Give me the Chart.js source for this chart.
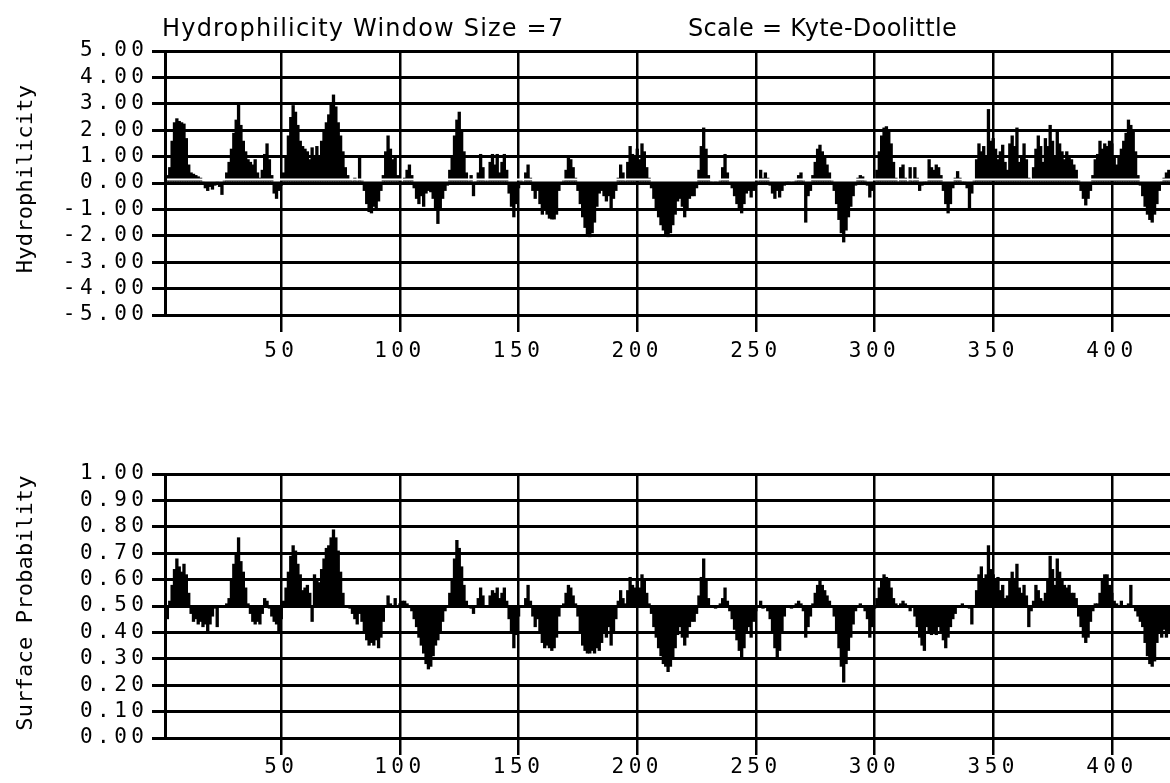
<!DOCTYPE html>
<html>
<head>
<meta charset="utf-8">
<title>Hydrophilicity / Surface Probability</title>
<script src="https://cdn.jsdelivr.net/npm/chart.js"></script>
<style>
  body { margin: 0; background: #fff; }
  #wrap { position: relative; width: 1170px; height: 783px; overflow: hidden; background: #fff; }
  .title { position: absolute; top: 16px; font-family: "DejaVu Sans"; font-size: 24px; line-height: 24px; color: #000; white-space: nowrap; }
  .ytitle { position: absolute; width: 400px; height: 24px; line-height: 24px; text-align: center;
            font-family: "DejaVu Sans Mono"; font-size: 22px; letter-spacing: 0.2px; color: #000;
            transform: rotate(-90deg); white-space: nowrap; }
  canvas { position: absolute; left: 0; }
</style>
</head>
<body>
<div id="wrap">
  <canvas id="hydroChart" width="1170" height="400" style="top:0"></canvas>
  <canvas id="surfChart" width="1170" height="383" style="top:400px"></canvas>
  <div class="title" style="left:162px; letter-spacing:1.2px">Hydrophilicity Window Size =7</div>
  <div class="title" style="left:688px; letter-spacing:0.3px">Scale = Kyte-Doolittle</div>
  <div class="ytitle" style="left:-175px; top:167px">Hydrophilicity</div>
  <div class="ytitle" style="left:-175px; top:591px">Surface Probability</div>
</div>
<script>
// x axis labels (residue number)
const xTicks = [50, 100, 150, 200, 250, 300, 350, 400];
const hydroTicks = [-5, -4, -3, -2, -1, 0, 1, 2, 3, 4, 5];
const surfTicks = [0, 0.1, 0.2, 0.3, 0.4, 0.5, 0.6, 0.7, 0.8, 0.9, 1.0];

// Kyte-Doolittle hydrophilicity, one value per residue starting at residue 1
const hydro = [
  -1.8, 0.3, 0.6, 1.6, 2.3, 2.45, 2.35, 2.3, 2.25, 1.7,
  0.7, 0.4, 0.35, 0.3, 0.25, 0.2, 0.05, -0.2, -0.3, -0.15,
  -0.25, -0.1, 0.05, -0.15, -0.45, 0.1, 0.4, 0.8, 1.3, 1.9,
  2.4, 3.0, 2.2, 1.6, 1.2, 0.9, 0.8, 0.7, 0.9, 0.4,
  0.2, 0.5, 1.1, 1.5, 0.9, 0.3, -0.4, -0.6, -0.3, -0.1,
  0.4, 1.0, 1.8, 2.5, 2.95, 2.7, 2.2, 1.6, 1.4, 1.3,
  1.2, 0.9, 1.35, 1.0, 1.4, 1.0, 1.6, 2.0, 2.3, 2.6,
  3.0, 3.35, 2.9, 2.3, 1.8, 1.2, 0.6, 0.3, 0.15, 0.1,
  0.2, 0.1, 0.95, 0.1, -0.3, -0.8, -1.1, -1.15, -0.9, -1.0,
  -0.7, -0.3, 0.3, 1.2, 1.8, 1.3, 0.9, 1.0, 0.3, 0.1,
  0.05, 0.2, 0.5, 0.7, 0.3, -0.2, -0.6, -0.8, -0.5, -0.9,
  -0.4, -0.3, -0.35, -0.6, -1.0, -1.55, -1.0, -0.6, -0.3, -0.1,
  0.5, 1.0, 1.8, 2.4, 2.7, 2.0, 1.2, 0.4, 0.1, 0.3,
  -0.5, 0.05, 0.4, 1.1, 0.6, 0.1, 0.1, 0.8, 1.1, 0.7,
  1.1, 0.4, 0.8, 1.1, 0.5, -0.4, -0.9, -1.3, -0.8, -0.2,
  0.1, 0.05, 0.4, 0.7, 0.2, -0.3, -0.6, -0.3, -0.8, -1.2,
  -1.0, -1.2, -1.35, -1.38, -1.38, -1.2, -0.3, -0.05, 0.1, 0.5,
  1.0, 0.9, 0.6, 0.2, -0.3, -0.8, -1.3, -1.7, -2.0, -2.05,
  -1.9, -1.5, -0.9, -0.4, -0.3, -0.5, -0.7, -0.5, -1.0, -0.6,
  -0.3, 0.2, 0.7, 0.4, 0.1, 0.8, 1.4, 1.1, 1.0, 1.3,
  0.9, 1.5, 1.2, 0.6, 0.2, -0.2, -0.6, -1.0, -1.3, -1.6,
  -1.8, -1.95, -2.05, -1.9, -1.6, -1.2, -0.7, -0.6, -0.9, -1.3,
  -1.0, -0.6, -0.5, -0.5, -0.2, 0.5, 1.4, 2.1, 1.3, 0.3,
  0.05, -0.05, 0.05, 0.0, 0.1, 0.6, 1.1, 0.4, 0.0, -0.2,
  -0.5, -0.8, -1.0, -1.15, -0.8, -0.4, -0.3, -0.55, -0.3, -0.1,
  0.1, 0.5, 0.2, 0.4, 0.2, -0.1, -0.4, -0.6, -0.3, -0.55,
  -0.3, -0.1, 0.05, 0.05, -0.05, 0.05, 0.1, 0.3, 0.4, 0.1,
  -1.5, -0.5, -0.3, 0.3, 0.8, 1.3, 1.45, 1.2, 1.0, 0.7,
  0.4, 0.1, -0.3, -0.8, -1.4, -1.9, -2.25, -1.8, -1.3, -0.9,
  -0.5, -0.1, 0.2, 0.3, 0.25, 0.1, -0.1, -0.55, -0.3, 0.0,
  0.5, 1.2, 1.8, 2.1, 2.15, 2.0, 1.5, 0.8, 0.2, 0.05,
  0.6, 0.7, 0.2, 0.05, 0.6, 0.1, 0.6, 0.2, -0.3, -0.1,
  0.05, 0.05, 0.9, 0.6, 0.5, 0.7, 0.6, 0.3, -0.3, -0.8,
  -1.15, -0.8, -0.2, 0.2, 0.45, 0.2, 0.05, 0.05, -0.2, -0.95,
  -0.4, 0.1, 0.9, 1.5, 1.2, 1.4, 1.0, 2.8, 1.6, 1.7,
  1.3, 0.9, 1.2, 1.45, 0.8, 0.5, 1.5, 1.8, 1.4, 2.1,
  0.8, 1.0, 1.5, 0.9, 0.2, 0.15, 0.6, 1.3, 1.8, 1.4,
  0.8, 1.7, 1.4, 2.2, 1.6, 1.0, 2.0, 1.5, 1.2, 0.9,
  1.2, 1.0, 0.9, 0.7, 0.5, 0.1, -0.3, -0.6, -0.85, -0.6,
  -0.3, 0.3, 0.9, 1.1, 1.6, 1.3, 1.5, 1.4, 1.6, 1.5,
  1.0, 0.7, 1.0, 1.3, 1.6, 1.9, 2.4, 2.2, 2.0, 1.2,
  0.3, -0.1, -0.5, -0.9, -1.2, -1.4, -1.5, -1.2, -0.8, -0.3,
  0.05, 0.2, 0.4, 0.5
];

// Emini surface probability, one value per residue starting at residue 1
const surface = [
  0.23, 0.45, 0.52, 0.58, 0.64, 0.68, 0.65, 0.63, 0.66, 0.62,
  0.55, 0.47, 0.44, 0.45, 0.43, 0.44, 0.42, 0.43, 0.40, 0.43,
  0.46, 0.49, 0.42, 0.5, 0.5, 0.5, 0.51, 0.53, 0.6, 0.66,
  0.7, 0.76, 0.67, 0.63, 0.57, 0.51, 0.47, 0.44, 0.43, 0.44,
  0.43, 0.47, 0.53, 0.52, 0.49, 0.46, 0.44, 0.43, 0.40, 0.45,
  0.52, 0.57, 0.63, 0.69, 0.73, 0.71, 0.66, 0.62, 0.56, 0.57,
  0.58, 0.55, 0.44, 0.62, 0.6, 0.59, 0.64, 0.68, 0.72, 0.73,
  0.76, 0.79, 0.76, 0.71, 0.63, 0.55, 0.5, 0.5, 0.49, 0.47,
  0.45, 0.43, 0.47, 0.44, 0.40, 0.37, 0.35, 0.36, 0.35, 0.37,
  0.34, 0.38, 0.44, 0.5, 0.54, 0.51, 0.5, 0.53, 0.5, 0.51,
  0.52, 0.52, 0.51, 0.5, 0.48, 0.45, 0.42, 0.38, 0.35, 0.32,
  0.28, 0.26, 0.27, 0.31, 0.35, 0.37, 0.40, 0.44, 0.48, 0.5,
  0.55, 0.6, 0.68, 0.75, 0.72, 0.65, 0.58, 0.52, 0.5, 0.49,
  0.47, 0.5, 0.53, 0.57, 0.54, 0.5, 0.5, 0.54, 0.56, 0.55,
  0.57, 0.53, 0.55, 0.57, 0.52, 0.45, 0.40, 0.34, 0.39, 0.46,
  0.5, 0.5, 0.53, 0.58, 0.52, 0.46, 0.42, 0.45, 0.40, 0.36,
  0.34, 0.35, 0.34, 0.33, 0.34, 0.38, 0.46, 0.5, 0.51, 0.55,
  0.58, 0.57, 0.54, 0.51, 0.46, 0.40, 0.35, 0.33, 0.32, 0.32,
  0.33, 0.32, 0.34, 0.33, 0.36, 0.40, 0.38, 0.42, 0.35, 0.40,
  0.45, 0.52, 0.56, 0.53, 0.51, 0.56, 0.61, 0.58, 0.57, 0.6,
  0.57, 0.62, 0.6, 0.55, 0.51, 0.47, 0.42, 0.38, 0.34, 0.31,
  0.28, 0.27, 0.25, 0.27, 0.30, 0.34, 0.39, 0.42, 0.38, 0.35,
  0.38, 0.42, 0.44, 0.44, 0.47, 0.54, 0.61, 0.68, 0.6, 0.53,
  0.5, 0.5, 0.49, 0.5, 0.51, 0.53, 0.57, 0.52, 0.48, 0.45,
  0.41, 0.37, 0.33, 0.30, 0.34, 0.40, 0.42, 0.38, 0.44, 0.48,
  0.5, 0.52, 0.49, 0.5, 0.48, 0.45, 0.40, 0.34, 0.30, 0.33,
  0.40, 0.46, 0.5, 0.5, 0.49, 0.5, 0.51, 0.52, 0.51, 0.48,
  0.38, 0.42, 0.46, 0.51, 0.55, 0.58, 0.6, 0.58, 0.56, 0.54,
  0.52, 0.5, 0.46, 0.40, 0.34, 0.27, 0.21, 0.28, 0.33, 0.38,
  0.43, 0.48, 0.5, 0.51, 0.5, 0.48, 0.45, 0.38, 0.42, 0.49,
  0.53, 0.57, 0.6, 0.62, 0.61, 0.6, 0.57, 0.53, 0.51, 0.5,
  0.51, 0.52, 0.51, 0.5, 0.48, 0.5, 0.46, 0.42, 0.38, 0.35,
  0.33, 0.42, 0.40, 0.39, 0.40, 0.39, 0.42, 0.40, 0.37, 0.34,
  0.38, 0.42, 0.45, 0.47, 0.5, 0.5, 0.51, 0.5, 0.5, 0.49,
  0.43, 0.5, 0.56, 0.62, 0.65, 0.6, 0.62, 0.73, 0.64, 0.62,
  0.6, 0.61, 0.56, 0.58, 0.53, 0.54, 0.6, 0.63, 0.6, 0.66,
  0.57, 0.55, 0.58, 0.54, 0.42, 0.48, 0.52, 0.58, 0.56, 0.53,
  0.52, 0.55, 0.6, 0.69, 0.64, 0.58, 0.68, 0.63, 0.6, 0.58,
  0.57, 0.58, 0.55, 0.55, 0.53, 0.46, 0.42, 0.38, 0.36, 0.38,
  0.44, 0.48, 0.51, 0.51, 0.55, 0.6, 0.62, 0.62, 0.58, 0.55,
  0.52, 0.51, 0.5, 0.52, 0.5, 0.5, 0.51, 0.58, 0.5, 0.48,
  0.46, 0.44, 0.42, 0.36, 0.31, 0.28, 0.27, 0.29, 0.36, 0.40,
  0.38, 0.41, 0.38, 0.4
];

const residues = hydro.map((v, i) => i + 1);

const monoFont = { family: 'DejaVu Sans Mono', size: 21 };

// the old plot has very wide letter spacing on its numbers
const spacing = {
  id: 'spacing',
  beforeDraw(chart) {
    chart.ctx.letterSpacing = '4.5px';
  }
};

// white gap just above the zero line, as in the print
const zeroLine = {
  id: 'zeroLine',
  afterDatasetsDraw(chart, args, opts) {
    const ctx = chart.ctx;
    const area = chart.chartArea;
    const y = chart.scales.y.getPixelForValue(opts.value);
    ctx.save();
    ctx.fillStyle = '#fff';
    ctx.fillRect(area.left + 2, y - 4.5, area.right - area.left, 2);
    ctx.fillStyle = '#000';
    ctx.fillRect(area.left, y - 1.5, area.right - area.left, 3);
    ctx.restore();
  }
};

function makePanel(id, values, base, yTicks, padTop, xHeight, labelPad, extra) {
  const ctx = document.getElementById(id).getContext('2d');
  return new Chart(ctx, {
    type: 'bar',
    data: {
      datasets: [{
        // each residue is a bar from the baseline to its value
        data: residues.map((r, i) => ({ x: r, y: [base, values[i]] })),
        backgroundColor: '#000',
        borderWidth: 0,
        barPercentage: 1.4,
        categoryPercentage: 1
      }]
    },
    options: {
      responsive: false,
      animation: false,
      layout: { padding: { top: padTop, left: 0, right: 0, bottom: 0 } },
      plugins: {
        legend: { display: false },
        tooltip: { enabled: false },
        zeroLine: { value: base }
      },
      scales: {
        x: {
          type: 'linear',
          offset: false,
          min: 1,
          max: 424.5,
          afterBuildTicks: s => { s.ticks = xTicks.map(v => ({ value: v })); },
          afterFit: s => { s.height = xHeight; },
          grid: { color: '#000', lineWidth: 2.5, tickLength: 17, offset: false },
          border: { display: true, color: '#000', width: 3 },
          ticks: { color: '#000', font: monoFont, padding: labelPad, maxRotation: 0, autoSkip: false }
        },
        y: {
          min: yTicks[0],
          max: yTicks[yTicks.length - 1],
          afterBuildTicks: s => { s.ticks = yTicks.map(v => ({ value: v })); },
          afterFit: s => { s.width = 165; },
          grid: { color: '#000', lineWidth: 3, tickLength: 13 },
          border: { display: true, color: '#000', width: 3 },
          ticks: { color: '#000', font: monoFont, padding: 3.5, autoSkip: false, callback: v => v.toFixed(2) }
        }
      }
    },
    plugins: [spacing].concat(extra)
  });
}

window.onload = function () {
  makePanel('hydroChart', hydro, 0, hydroTicks, 51, 85, 7, [zeroLine]);
  makePanel('surfChart', surface, 0.5, surfTicks, 74, 45, 0, []);
};
</script>
</body>
</html>
